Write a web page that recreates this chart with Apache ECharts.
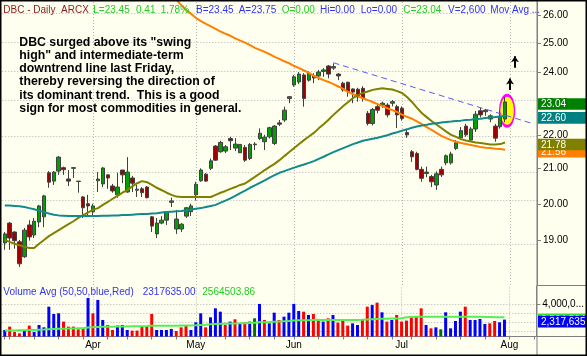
<!DOCTYPE html>
<html><head><meta charset="utf-8">
<script src="https://cdn.jsdelivr.net/npm/echarts@6.0.0/dist/echarts.min.js"></script>
<style>html,body{margin:0;padding:0;background:#fffff0;}#c{width:587px;height:356px;}</style>
</head><body><div id="c"></div><script>
// ---- categories (2009 trading days) ----
const marDays=[6,9,10,11,12,13,16,17,18,19,20,23,24,25,26,27,30,31];
const aprDays=[1,2,3,6,7,8,9,13,14,15,16,17,20,21,22,23,24,27,28,29,30];
const mayDays=[1,4,5,6,7,8,11,12,13,14,15,18,19,20,21,22,26,27,28,29];
const junDays=[1,2,3,4,5,8,9,10,11,12,15,16,17,18,19,22,23,24,25,26,29,30];
const julDays=[1,2,6,7,8,9,10,13,14,15,16,17,20,21,22,23,24,27,28,29,30,31];
const augDays=[3,4,5,6,7,10];
const monthNames={3:'Mar',4:'Apr',5:'May',6:'Jun',7:'Jul',8:'Aug'};
// ---- prices ----
const open=[18.94,19.47,19.23,18.97,18.58,19.42,19.15,19.50,19.64,20.88,
20.64,20.93,21.03,20.70,21.01,20.63,20.19,20.00,19.78,20.65,
20.56,20.82,20.50,20.25,20.96,20.33,20.73,20.38,20.42,20.47,
19.64,19.18,19.47,19.55,20.04,19.31,19.31,19.66,19.78,20.25,
20.65,20.84,21.01,21.67,21.50,21.52,21.90,21.61,21.47,21.63,
21.30,21.71,21.90,21.80,21.95,21.75,22.38,22.47,23.15,23.59,
23.69,23.92,23.75,23.82,23.89,24.04,24.22,24.15,23.95,23.65,
23.68,23.46,23.45,23.48,22.68,22.36,22.89,22.94,22.94,23.00,
22.89,22.84,22.08,21.50,21.45,20.98,20.86,20.77,20.53,20.98,
21.17,21.17,21.60,21.92,22.28,21.85,22.19,22.76,22.78,22.50,
22.28,22.26,22.50];
const close=[19.18,19.07,19.00,18.40,19.28,19.10,19.52,19.94,20.22,20.61,
20.90,21.34,20.97,20.64,21.03,20.64,19.89,19.94,19.94,20.70,
21.02,20.73,20.36,20.47,20.82,20.90,20.58,20.41,20.31,20.17,
19.39,19.47,19.55,19.78,20.08,19.58,19.44,19.89,19.94,20.55,
20.96,20.64,21.23,21.25,21.78,21.65,21.83,21.73,21.72,21.25,
21.72,21.73,22.06,21.94,22.23,22.28,22.34,22.78,23.21,23.86,
23.95,23.15,23.98,23.89,24.02,24.09,23.95,24.20,23.89,23.43,
23.37,23.36,23.20,23.15,22.36,22.80,22.78,23.00,22.63,23.05,
22.63,22.52,22.01,21.35,20.98,20.72,20.90,20.62,20.85,20.82,
21.38,21.43,21.77,22.14,22.01,22.19,22.65,22.63,22.73,22.60,
21.91,22.57,23.04];
const high=[19.23,19.50,19.25,19.02,19.34,19.55,19.61,19.97,20.25,20.93,
20.93,21.37,21.06,20.96,21.05,20.64,20.22,20.25,20.00,20.90,
21.05,20.82,20.56,20.88,20.96,21.34,20.79,20.53,20.47,20.50,
19.66,19.61,19.66,19.78,20.17,19.83,19.47,19.91,20.00,20.62,
21.01,20.87,21.30,21.70,21.83,21.70,21.95,21.91,21.73,21.70,
21.76,21.79,22.21,22.01,22.26,22.31,22.47,22.89,23.23,23.92,
24.02,23.98,24.04,23.98,24.09,24.15,24.25,24.31,23.98,23.70,
23.70,23.48,23.50,23.55,22.75,22.85,22.99,23.05,23.00,23.10,
22.95,22.90,22.16,21.55,21.50,21.06,21.06,20.82,20.92,21.06,
21.42,21.50,21.85,22.25,22.35,22.25,22.75,22.85,22.82,22.65,
22.35,22.75,23.20];
const low=[18.76,18.76,18.79,18.32,18.55,19.00,19.07,19.36,19.36,20.45,
20.53,20.82,20.82,20.50,20.73,20.31,19.61,19.64,19.64,20.33,
20.47,20.42,20.31,20.17,20.58,20.31,20.33,20.19,20.19,20.15,
19.23,19.07,19.44,19.42,19.91,19.18,19.23,19.61,19.66,20.09,
20.62,20.62,20.96,21.23,21.47,21.46,21.55,21.52,21.46,21.20,
21.25,21.55,21.85,21.55,21.90,21.70,22.28,22.41,23.00,23.53,
23.62,22.89,23.70,23.65,23.75,23.86,23.81,24.09,23.75,23.37,
23.21,23.00,23.05,23.05,22.30,22.30,22.68,22.85,22.55,22.90,
22.22,22.45,21.92,21.20,20.95,20.62,20.75,20.47,20.39,20.76,
21.10,21.12,21.55,21.85,21.95,21.80,22.10,22.55,22.60,22.40,
21.80,22.20,22.40];
// ---- moving averages ----
const maTeal=[19.95,19.95,19.94,19.93,19.91,19.88,19.85,19.81,19.77,19.73,
19.70,19.68,19.67,19.66,19.66,19.66,19.66,19.66,19.66,19.66,
19.67,19.67,19.68,19.68,19.69,19.69,19.70,19.71,19.72,19.72,
19.73,19.74,19.76,19.77,19.78,19.79,19.80,19.82,19.84,19.86,
19.88,19.91,19.94,19.97,20.03,20.09,20.15,20.22,20.30,20.37,
20.45,20.52,20.59,20.66,20.74,20.81,20.88,20.93,20.98,21.03,
21.08,21.12,21.17,21.22,21.29,21.35,21.42,21.49,21.55,21.61,
21.67,21.73,21.78,21.83,21.86,21.89,21.92,21.96,22.00,22.05,
22.09,22.14,22.18,22.23,22.27,22.30,22.32,22.35,22.37,22.39,
22.41,22.42,22.44,22.45,22.47,22.48,22.50,22.51,22.53,22.55,
22.56,22.58,22.60];
const maOlive=[19.02,18.97,18.92,18.88,18.84,18.81,18.81,18.92,19.02,19.12,
19.20,19.28,19.36,19.44,19.52,19.61,19.69,19.76,19.83,19.88,
19.97,20.05,20.14,20.22,20.31,20.39,20.49,20.58,20.64,20.61,
20.53,20.45,20.38,20.31,20.25,20.20,20.19,20.19,20.19,20.19,
20.19,20.19,20.19,20.25,20.31,20.36,20.42,20.47,20.53,20.57,
20.67,20.76,20.86,20.96,21.05,21.14,21.25,21.37,21.49,21.61,
21.73,21.85,21.96,22.07,22.21,22.34,22.48,22.63,22.77,22.91,
23.04,23.17,23.25,23.33,23.38,23.43,23.46,23.48,23.46,23.44,
23.39,23.33,23.20,23.04,22.86,22.69,22.56,22.44,22.33,22.22,
22.11,22.01,21.95,21.88,21.84,21.81,21.78,21.76,21.74,21.72,
21.72,21.73,21.78];
const maOrange=[null,null,null,null,null,null,null,null,null,null,
null,null,null,null,null,null,null,null,null,null,
null,null,null,null,null,null,null,null,null,null,
null,null,null,null,null,26.55,26.36,26.18,26.04,25.89,
25.78,25.68,25.59,25.50,25.41,25.33,25.26,25.17,25.09,25.02,
24.93,24.84,24.77,24.70,24.62,24.53,24.46,24.38,24.31,24.22,
24.15,24.07,23.99,23.89,23.82,23.75,23.69,23.62,23.54,23.46,
23.36,23.29,23.23,23.16,23.10,23.04,22.97,22.91,22.84,22.78,
22.72,22.64,22.57,22.51,22.43,22.34,22.25,22.16,22.07,21.98,
21.91,21.85,21.80,21.76,21.73,21.70,21.67,21.64,21.62,21.61,
21.59,21.58,21.56];
// ---- volume ----
const volume=[1180000,1550000,960000,810000,1180000,1660000,960000,1730000,1470000,3740000,
2940000,3010000,2100000,1550000,1550000,1250000,1360000,4700000,3010000,4480000,
2280000,1730000,1180000,1660000,1730000,1180000,1110000,1110000,1510000,1510000,
2940000,1180000,1180000,1180000,1290000,1070000,1470000,1620000,1180000,2020000,
3010000,1470000,2570000,3560000,3190000,1730000,2100000,2350000,1910000,2020000,
2100000,2460000,4040000,2280000,1910000,3080000,2280000,2640000,3080000,4040000,
3270000,3190000,2830000,2940000,2390000,2100000,2460000,2830000,1990000,2210000,
1660000,1910000,1730000,2390000,3740000,3930000,4180000,3120000,2100000,2280000,
2830000,2100000,2210000,2720000,2640000,3560000,1730000,1360000,1470000,1250000,
3120000,1360000,2170000,3190000,3740000,2280000,2280000,2390000,1840000,1910000,
2170000,2020000,2317635];
const volDir=('brrrbrbbbb'+'bbrrrrrbrb'+'brrbbbrrrr'+'rbbbbrrrbb'+'brbbbrbrbr'+
'bgbrbbrbbb'+'brbrrbrbrr'+'rbbrrbrbrb'+'rrrrrrbrbg'+'bbbbrbbbbr'+'rbb').split('');
const volAvg=[1.11,1.12,1.13,1.14,1.15,1.17,1.18,1.20,1.22,1.25,
1.28,1.30,1.32,1.33,1.35,1.37,1.38,1.44,1.47,1.50,
1.52,1.53,1.54,1.55,1.56,1.57,1.58,1.59,1.60,1.61,
1.63,1.63,1.63,1.64,1.64,1.65,1.66,1.67,1.68,1.70,
1.73,1.75,1.80,1.83,1.86,1.87,1.89,1.90,1.91,1.93,
1.95,1.97,2.02,2.04,2.05,2.08,2.10,2.13,2.16,2.21,
2.24,2.25,2.26,2.27,2.27,2.27,2.28,2.28,2.28,2.28,
2.28,2.28,2.28,2.30,2.33,2.36,2.38,2.40,2.42,2.44,
2.45,2.46,2.58,2.60,2.62,2.64,2.64,2.64,2.64,2.64,
2.64,2.64,2.64,2.64,2.64,2.64,2.63,2.62,2.61,2.60,
2.59,2.58,2.564504];
// ---- axis ticks & annotations ----
const priceTicks=[19,20,21,22,23,24,25,26];
const volGridTicks=[1000000,2000000,3000000,4000000];
const volLabelTicks=[4000000];
const trendStart={date:'6/11',price:24.33};
const trendEnd={date:'8/10',price:22.34};
const arrowA={date:'8/4',from:24.16,to:24.55};
const arrowB={date:'8/3',from:23.43,to:23.80};
const circleAt={date:'7/31',price:22.76};
const noteLines=['DBC surged above its "swing','high" and intermediate-term','downtrend line last Friday,','thereby reversing the direction of','its dominant trend.  This is a good','sign for most commodities in general.'];

// ---- build ----
const L=Math.log;
const cats=[], monthStart=[], weekStart=new Set();
let prevDow=99;
[[3,marDays],[4,aprDays],[5,mayDays],[6,junDays],[7,julDays],[8,augDays]].forEach(([m,days])=>{
  days.forEach((d,k)=>{
    const idx=cats.length;
    if(k===0&&m>3) monthStart.push(idx);
    const dow=new Date(2009,m-1,d).getDay();
    if(dow<=prevDow) weekStart.add(idx);
    prevDow=dow;
    cats.push(m+'/'+d);
  });
});
const msSet=new Set(monthStart);
const PMIN=L(17.865), PMAX=L(26.474);
const VMIN=462000, VMAX=6011000;
const grid0={left:2.3,top:2,width:534.7,height:283};
const grid1={left:2.3,top:286,width:534.7,height:50.5};
const dotted={color:'#b4b4b4',type:[1,2],width:1};
const volColors={b:'#0000ff',r:'#ff0000',g:'#007000'};
const FONT='"Liberation Sans", Arial, sans-serif';

const option={
  backgroundColor:'#fffff0',
  animation:false,
  grid:[grid0,grid1],
  xAxis:[
    {gridIndex:0,type:'category',data:cats,boundaryGap:true,axisLine:{show:false},axisTick:{show:false},axisLabel:{show:false},splitLine:{show:false}},
    {gridIndex:1,type:'category',data:cats,boundaryGap:true,
     axisLine:{show:true,lineStyle:{color:'#808080'}},
     axisTick:{show:true,alignWithLabel:true,interval:(i)=>weekStart.has(i),length:3,lineStyle:{color:'#808080'}},
     axisLabel:{interval:(i)=>msSet.has(i),formatter:(v)=>monthNames[+v.split('/')[0]],fontSize:10,color:'#000',margin:4,fontFamily:FONT},
     splitLine:{show:false}}
  ],
  yAxis:[
    {gridIndex:0,type:'value',position:'right',min:PMIN,max:PMAX,
     axisLine:{show:true,lineStyle:{color:'#808080'}},
     axisTick:{show:true,customValues:priceTicks.map(L),length:4,lineStyle:{color:'#808080'}},
     axisLabel:{show:true,customValues:priceTicks.map(L),formatter:(v)=>Math.exp(v).toFixed(2),fontSize:10,color:'#000',margin:6,fontFamily:FONT},
     splitLine:{show:false}},
    {gridIndex:1,type:'value',position:'right',min:VMIN,max:VMAX,
     axisLine:{show:true,lineStyle:{color:'#808080'}},
     axisTick:{show:true,customValues:volLabelTicks,length:4,lineStyle:{color:'#808080'}},
     axisLabel:{show:true,customValues:volLabelTicks,formatter:(v)=>Math.round(v).toLocaleString('en-US').slice(0,7)+'...',fontSize:10,color:'#000',margin:6,fontFamily:FONT},
     splitLine:{show:false}}
  ],
  series:[
    {type:'line',xAxisIndex:0,yAxisIndex:0,data:[],silent:true,
     markLine:{silent:true,symbol:'none',z:0,label:{show:false},lineStyle:dotted,
       data:priceTicks.map(p=>({yAxis:L(p)})).concat(monthStart.map(i=>({xAxis:cats[i]})))}},
    {type:'line',xAxisIndex:1,yAxisIndex:1,data:[],silent:true,
     markLine:{silent:true,symbol:'none',z:0,label:{show:false},lineStyle:dotted,
       data:volGridTicks.map(v=>({yAxis:v})).concat(monthStart.map(i=>({xAxis:cats[i]})))}},
    {type:'line',xAxisIndex:0,yAxisIndex:0,data:[],silent:true,
     markPoint:{silent:true,z:1,symbol:'circle',symbolSize:[15,31],symbolOffset:[2,0],label:{show:false},
       itemStyle:{color:'#ffff00',borderColor:'#ff00ff',borderWidth:2},
       data:[{coord:[circleAt.date,L(circleAt.price)]}]}},
    {type:'candlestick',xAxisIndex:0,yAxisIndex:0,z:3,barWidth:4,
     itemStyle:{color:'#00a000',color0:'#a00000',borderColor:'#404040',borderColor0:'#404040',borderWidth:1},
     data:open.map((o,i)=>[L(o),L(close[i]),L(low[i]),L(high[i])])},
    {type:'line',xAxisIndex:0,yAxisIndex:0,z:4,symbol:'none',lineStyle:{color:'#ff8000',width:2},data:maOrange.map(v=>v==null?null:L(v))},
    {type:'line',xAxisIndex:0,yAxisIndex:0,z:4,symbol:'none',lineStyle:{color:'#808000',width:2},data:maOlive.map(L)},
    {type:'line',xAxisIndex:0,yAxisIndex:0,z:4,symbol:'none',lineStyle:{color:'#108a8a',width:2},data:maTeal.map(L)},
    {type:'line',xAxisIndex:0,yAxisIndex:0,data:[],silent:true,
     markLine:{silent:true,z:5,label:{show:false},
       data:[
         [{coord:[trendStart.date,L(trendStart.price)],symbol:'none',lineStyle:{color:'#5a5aff',type:[6,4],width:1}},{coord:[trendEnd.date,L(trendEnd.price)],symbol:'none'}],
         [{coord:[arrowA.date,L(arrowA.from)],symbol:'none',lineStyle:{color:'#000',type:'solid',width:2}},{coord:[arrowA.date,L(arrowA.to)],symbol:'arrow',symbolSize:[6,6]}],
         [{coord:[arrowB.date,L(arrowB.from)],symbol:'none',lineStyle:{color:'#000',type:'solid',width:2}},{coord:[arrowB.date,L(arrowB.to)],symbol:'arrow',symbolSize:[6,6]}]
       ]}},
    {type:'bar',xAxisIndex:1,yAxisIndex:1,barWidth:3,z:3,
     data:volume.map((v,i)=>({value:v,itemStyle:{color:volColors[volDir[i]]}}))},
    {type:'line',xAxisIndex:1,yAxisIndex:1,z:4,symbol:'none',lineStyle:{color:'#55ee55',width:2},data:volAvg.map(v=>v*1e6)}
  ]
};
const chart=echarts.init(document.getElementById('c'),null,{width:587,height:356});
chart.setOption(option);

// ---- static texts and frame ----
const g=[];
function txt(s,x,y,color,font,extra){g.push(Object.assign({type:'text',z:50,style:Object.assign({text:s,x:x,y:y,fill:color,font:font,align:'left',verticalAlign:'middle'},extra||{})}));}
const hf='10px '+FONT;
txt('DBC - Daily  ARCX',3.3,10,'#8b1a1a',hf);
txt('L=23.45',93.3,10,'#22cc22',hf);
txt('0.41',136,10,'#22cc22',hf);
txt('1.78%',160.7,10,'#22cc22',hf);
txt('B=23.45',196,10,'#3333ee',hf);
txt('A=23.75',238.7,10,'#3333ee',hf);
txt('O=0.00',281.7,10,'#22cc22',hf);
txt('Hi=0.00',320,10,'#3333ee',hf);
txt('Lo=0.00',360.7,10,'#3333ee',hf);
txt('C=23.04',403.3,10,'#22cc22',hf);
txt('V=2,600',448,10,'#3333ee',hf);
txt('Mov Avg ...',490.3,10,'#3333ee',hf);
txt('Volume Avg (50,50,blue,Red)',3.3,292.5,'#3333ee',hf);
txt('2317635.00',142.7,292.5,'#3333ee',hf);
txt('2564503.86',202.3,292.5,'#22cc22',hf);
g.push({type:'text',z:50,style:{text:noteLines.join('\n'),x:19.3,y:36.2,fill:'#000',font:'bold 12.3px '+FONT,lineHeight:13.1,align:'left',verticalAlign:'top'}});

// value boxes at right, positioned through the axes
let bz=40;
function box(val,label,axisIdx,bg){
  const y=chart.convertToPixel({yAxisIndex:axisIdx},axisIdx===0?L(val):val)+2;
  g.push({type:'rect',z:bz++,shape:{x:538,y:y-5.8,width:50,height:11.6},style:{fill:bg}});
  g.push({type:'text',z:bz++,style:{text:label,x:541,y:y+0.5,fill:'#fff',font:'10px '+FONT,align:'left',verticalAlign:'middle'}});
}
box(maOrange[maOrange.length-1],maOrange[maOrange.length-1].toFixed(2),0,'#ff8000');
box(maOlive[maOlive.length-1],maOlive[maOlive.length-1].toFixed(2),0,'#808000');
box(maTeal[maTeal.length-1],maTeal[maTeal.length-1].toFixed(2),0,'#008080');
box(close[close.length-1],close[close.length-1].toFixed(2),0,'#008000');
box(volAvg[volAvg.length-1]*1e6,Math.round(volAvg[volAvg.length-1]*1e6).toLocaleString('en-US'),1,'#33dd33');
box(volume[volume.length-1],volume[volume.length-1].toLocaleString('en-US'),1,'#0000ff');
// frame
g.push({type:'line',z:60,shape:{x1:537,y1:0,x2:537,y2:356},style:{stroke:'#808080',lineWidth:1}});
g.push({type:'line',z:60,shape:{x1:537,y1:285.5,x2:587,y2:285.5},style:{stroke:'#808080',lineWidth:1}});
g.push({type:'line',z:60,shape:{x1:537,y1:336.5,x2:587,y2:336.5},style:{stroke:'#808080',lineWidth:1}});
g.push({type:'rect',z:70,shape:{x:0.5,y:0.5,width:586,height:355},style:{fill:'none',stroke:'#000',lineWidth:2}});
chart.setOption({graphic:g});
</script></body></html>
